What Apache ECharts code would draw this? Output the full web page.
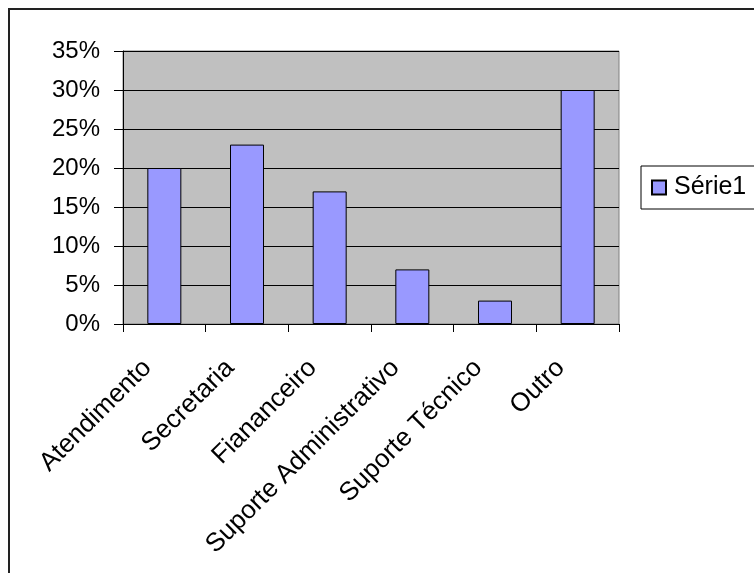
<!DOCTYPE html>
<html>
<head>
<meta charset="utf-8">
<script src="https://cdn.jsdelivr.net/npm/echarts@6/dist/echarts.min.js"></script>
<style>
html,body{margin:0;padding:0;background:#fff;}
#c{width:754px;height:573px;}
</style>
</head>
<body>
<div id="c"></div>
<script>
var categories = ['Atendimento', 'Secretaria', 'Fiananceiro', 'Suporte Administrativo', 'Suporte Técnico', 'Outro'];
var serie1 = [0.20, 0.23, 0.17, 0.07, 0.03, 0.30];
var seriesName = 'Série1';

var FONT = '"Liberation Sans", Arial, sans-serif';
var chart = echarts.init(document.getElementById('c'));
chart.setOption({
  animation: false,
  backgroundColor: '#fff',
  textStyle: { fontFamily: FONT },
  graphic: [{
    type: 'rect',
    shape: { x: 9, y: 9, width: 900, height: 700 },
    style: { fill: 'none', stroke: '#222', lineWidth: 2 },
    silent: true
  }],
  grid: {
    left: 123, right: 135, top: 51, bottom: 249,
    show: true, backgroundColor: '#C0C0C0', borderColor: '#808080', borderWidth: 1
  },
  legend: {
    left: 641, top: 166,
    orient: 'vertical',
    padding: [9, 9, 9, 10],
    borderColor: '#000', borderWidth: 1, backgroundColor: '#fff',
    itemWidth: 14, itemHeight: 14, itemGap: 0,
    textStyle: { fontSize: 25, lineHeight: 24, color: '#000', fontFamily: FONT, padding: [0, 0, 0, 3] },
    data: [{ name: seriesName, icon: 'rect' }]
  },
  xAxis: {
    type: 'category',
    data: categories,
    axisLine: { lineStyle: { color: '#000', width: 1 } },
    axisTick: { show: true, alignWithLabel: false, length: 8, lineStyle: { color: '#000' } },
    axisLabel: { rotate: 45, fontSize: 26, color: '#000', margin: 23, interval: 0, fontFamily: FONT, padding: [0, 24, 0, 0] },
    splitLine: { show: false }
  },
  yAxis: {
    type: 'value',
    min: 0, max: 0.35, interval: 0.05,
    axisLine: { show: true, lineStyle: { color: '#000', width: 1 } },
    axisTick: { show: true, length: 9, lineStyle: { color: '#000' } },
    axisLabel: {
      fontSize: 24, color: '#000', margin: 23, fontFamily: FONT,
      formatter: function (v) { return Math.round(v * 100) + '%'; }
    },
    splitLine: { show: true, lineStyle: { color: '#000', width: 1 } }
  },
  series: [{
    name: seriesName,
    type: 'bar',
    data: serie1,
    barWidth: 34,
    itemStyle: { color: '#9999FF', borderColor: '#000', borderWidth: 1 }
  }]
});
</script>
</body>
</html>
